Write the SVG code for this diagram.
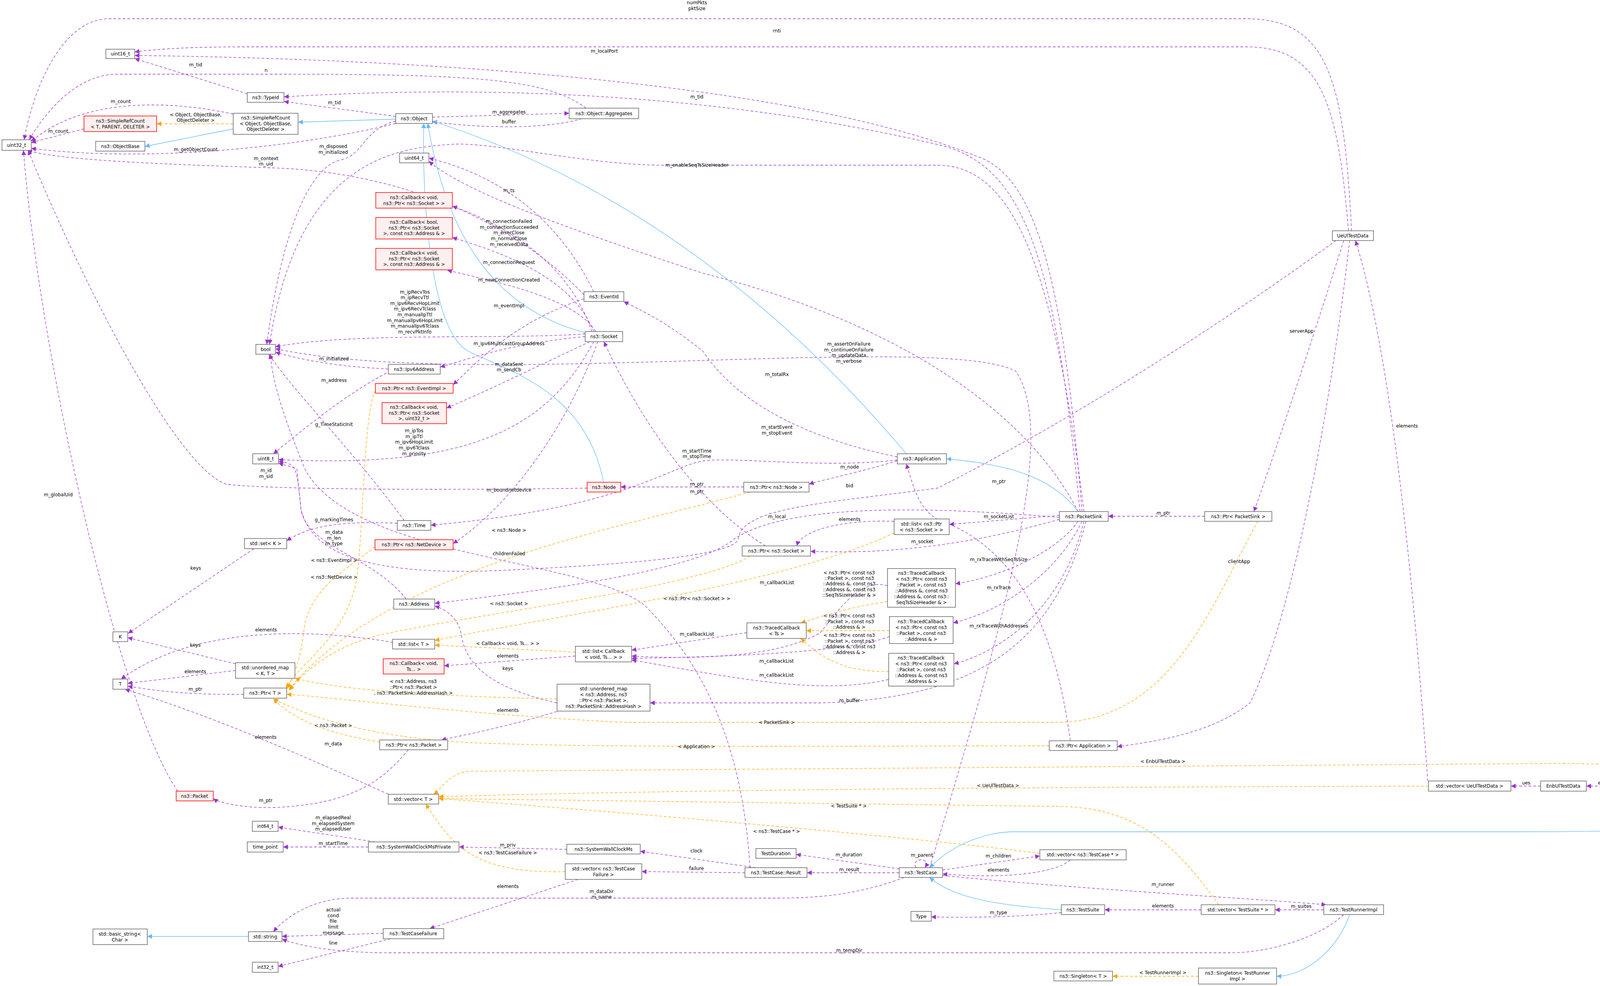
<svg xmlns="http://www.w3.org/2000/svg" width="4705" height="2525" viewBox="0 0 4705 2525">
<style>
text{font-family:"DejaVu Sans","Liberation Sans",sans-serif;font-size:12px;fill:#000}
.n rect{fill:#fff;stroke:#666;stroke-width:1.5}
.r rect{fill:#fff0f0;stroke:#f00;stroke-width:1.5}
.g rect{fill:#999;stroke:#666;stroke-width:1.5}
.n text,.r text,.g text{text-anchor:middle}
.u{fill:none;stroke:#9a32cd;stroke-width:1.3;stroke-dasharray:7,5}
.t{fill:none;stroke:#ffa500;stroke-width:1.3;stroke-dasharray:7,5}
.i{fill:none;stroke:#63b8ff;stroke-width:1.3}
.u{marker-end:url(#mu)}.t{marker-end:url(#mt)}.i{marker-end:url(#mi)}
.l{text-anchor:middle}
</style>
<defs>
<marker id="mu" viewBox="0 0 10 10" refX="10" refY="5" markerWidth="12" markerHeight="12" markerUnits="userSpaceOnUse" orient="auto"><path d="M0,0L10,5L0,10z" fill="#9a32cd"/></marker>
<marker id="mt" viewBox="0 0 10 10" refX="10" refY="5" markerWidth="12" markerHeight="12" markerUnits="userSpaceOnUse" orient="auto"><path d="M0,0L10,5L0,10z" fill="#ffa500"/></marker>
<marker id="mi" viewBox="0 0 10 10" refX="10" refY="5" markerWidth="12" markerHeight="12" markerUnits="userSpaceOnUse" orient="auto"><path d="M0,0L10,5L0,10z" fill="#63b8ff"/></marker>
</defs>
<rect width="4705" height="2525" fill="#fff"/>
<g id="edges">
<path class="u" d="M3460,591C3440,200 3400,48 3190,48L280,48C150,48 80,250 62,358"/>
<path class="u" d="M3452,591C3425,260 3380,120 3190,120L620,120C500,120 400,125 345,133"/>
<path class="u" d="M2770,1310C2720,700 2650,450 2500,400C2000,200 1000,150 345,142"/>
<path class="u" d="M2765,1310C2700,650 2620,420 2400,370C1800,230 1200,220 727,248"/>
<path class="u" d="M1500,277C1400,200 1200,190 700,190L300,190C200,190 120,280 75,358"/>
<path class="u" d="M1107,300L1457,290"/>
<path class="u" d="M1490,304C1400,330 1250,330 1107,312"/>
<path class="u" d="M633,240L345,150"/>
<path class="u" d="M1013,298L727,260"/>
<path class="u" d="M597,292C400,250 200,260 80,362"/>
<path class="u" d="M215,330L80,365"/>
<path class="u" d="M1013,316C800,370 400,420 80,380"/>
<path class="u" d="M1495,755C1300,550 1000,440 700,430C400,420 150,410 70,385"/>
<path class="u" d="M1013,310C930,330 930,400 870,410C790,430 720,600 683,882"/>
<path class="u" d="M1498,855C1300,870 900,850 705,888"/>
<path class="u" d="M994,945C900,940 800,930 705,902"/>
<path class="u" d="M1035,1333C900,1150 750,1000 688,907"/>
<path class="u" d="M1520,875C1400,1100 1200,1200 713,1177"/>
<path class="u" d="M1000,950C900,1000 800,1080 700,1162"/>
<path class="u" d="M1503,1250C1200,1255 700,1255 580,1240C450,1200 200,700 72,385"/>
<path class="u" d="M455,2026C300,1800 100,900 60,385"/>
<path class="u" d="M1520,747C1400,500 1200,430 1098,405"/>
<path class="u" d="M2760,1310C2600,1000 2200,800 1800,700C1500,600 1200,500 1098,413"/>
<path class="u" d="M1515,849C1450,650 1250,560 1158,528"/>
<path class="u" d="M1520,849C1460,700 1260,640 1158,608"/>
<path class="u" d="M1525,849C1470,760 1260,720 1145,692"/>
<path class="u" d="M1495,765C1300,830 1200,950 1160,985"/>
<path class="u" d="M1530,875C1450,1100 1300,1300 1160,1392"/>
<path class="u" d="M2297,1180C2200,1210 2100,1230 2071,1240"/>
<path class="u" d="M1904,1247L1589,1247"/>
<path class="u" d="M1960,1398C1800,1300 1650,1100 1546,875"/>
<path class="u" d="M1510,875C1350,950 1250,1000 1143,1045"/>
<path class="u" d="M2297,1170C2100,1130 1900,1050 1800,900C1700,820 1650,800 1597,772"/>
<path class="u" d="M2297,1178C2100,1200 1900,1170 1800,1180C1700,1200 1600,1300 1103,1345"/>
<path class="u" d="M1017,1340C900,1335 800,1340 734,1385"/>
<path class="u" d="M1040,1534C950,1420 780,1400 770,1300C760,1200 760,1185 713,1182"/>
<path class="u" d="M650,1405L328,1622"/>
<path class="u" d="M1006,1645C800,1610 500,1600 310,1739"/>
<path class="u" d="M603,1700L327,1633"/>
<path class="u" d="M603,1717L327,1750"/>
<path class="u" d="M624,1778C500,1780 400,1770 327,1757"/>
<path class="u" d="M994,2034C700,1900 500,1820 320,1765"/>
<path class="u" d="M1426,1800C1250,1760 1190,1700 1180,1620C1170,1580 1140,1560 1113,1552"/>
<path class="u" d="M1473,1680L1137,1705"/>
<path class="u" d="M1426,1822C1300,1860 1200,1880 1130,1895"/>
<path class="u" d="M1045,1920C980,2000 900,2060 700,2068C620,2070 560,2055 546,2045"/>
<path class="u" d="M960,2156L712,2118"/>
<path class="u" d="M943,2169L725,2169"/>
<path class="u" d="M1451,2175L1175,2169"/>
<path class="u" d="M1935,2222L1639,2180"/>
<path class="u" d="M1907,2235L1643,2232"/>
<path class="u" d="M1480,2252L1100,2378"/>
<path class="u" d="M981,2390L722,2398"/>
<path class="u" d="M1000,2404L712,2475"/>
<path class="u" d="M2315,2247C2200,2290 2100,2300 1990,2300L900,2300C800,2300 730,2350 700,2386"/>
<path class="u" d="M3440,2342C3380,2400 3250,2440 3150,2440L1000,2440C850,2440 760,2420 722,2405"/>
<path class="u" d="M2302,2225L2038,2188"/>
<path class="u" d="M2302,2235L2066,2235"/>
<path class="u" d="M2345,2222C2330,2195 2385,2195 2368,2222"/>
<path class="u" d="M2413,2228L2662,2192"/>
<path class="u" d="M2740,2202C2700,2240 2550,2250 2413,2238"/>
<path class="u" d="M2413,2242C2800,2280 3200,2300 3395,2317"/>
<path class="u" d="M2717,2337C2600,2350 2450,2350 2384,2348"/>
<path class="u" d="M3075,2330L2828,2330"/>
<path class="u" d="M3389,2330L3264,2330"/>
<path class="u" d="M1920,2222C1900,1900 1800,1700 1650,1550C1500,1430 900,1430 780,1200C740,1100 700,1000 692,907"/>
<path class="u" d="M2380,2222C2600,1500 2700,1100 2600,950C2400,850 1200,1000 705,893"/>
<path class="u" d="M2775,1310C2700,700 2600,423 2400,423L1700,423C1500,423 1250,360 1150,370C1000,380 760,420 690,882"/>
<path class="u" d="M2712,1330C2500,1390 2300,1420 2075,1412"/>
<path class="u" d="M2712,1320L2430,1343"/>
<path class="u" d="M2289,1335C2150,1330 2050,1360 2040,1398"/>
<path class="u" d="M2760,1335C2700,1420 2550,1480 2446,1495"/>
<path class="u" d="M2770,1335C2700,1480 2550,1570 2440,1595"/>
<path class="u" d="M2775,1335C2720,1560 2560,1670 2442,1700"/>
<path class="u" d="M2780,1335C2700,1650 2500,1790 2100,1800L1664,1800"/>
<path class="u" d="M1912,1620L1617,1665"/>
<path class="u" d="M2272,1500C2200,1480 2150,1560 2100,1620C2000,1680 1800,1690 1617,1680"/>
<path class="u" d="M2277,1630C2200,1660 2000,1680 1617,1686"/>
<path class="u" d="M2275,1740C2100,1780 1900,1740 1617,1690"/>
<path class="u" d="M2712,1325C2300,1290 2000,1300 1880,1380C1800,1450 1500,1500 1113,1545"/>
<path class="u" d="M2740,1897C2700,1600 2600,1400 2400,1330C2350,1300 2340,1250 2320,1188"/>
<path class="u" d="M3440,616C3350,900 3250,1200 3210,1310"/>
<path class="u" d="M3455,616C3400,1100 3300,1600 3200,1800C3100,1880 2950,1900 2860,1912"/>
<path class="u" d="M3084,1322L2837,1322"/>
<path class="u" d="M3420,616C3100,850 2700,1100 2400,1250C2100,1290 1900,1300 1890,1380C1880,1430 1500,1450 1300,1460C900,1480 790,1400 770,1300L760,1200L713,1186"/>
<path class="u" d="M3655,2000C3620,1500 3560,900 3470,616"/>
<path class="u" d="M3944,2013L3868,2013"/>
<path class="u" d="M4174,2013L4061,2013"/>
<path class="u" d="M4570,2089L4340,2026"/>
<path class="u" d="M1498,862C1300,880 1200,920 1127,940"/>
<path class="t" d="M597,317L401,317"/>
<path class="t" d="M961,1000C930,1050 930,1400 910,1500C870,1650 760,1700 735,1762"/>
<path class="t" d="M960,1400C900,1450 800,1500 780,1600C770,1680 760,1720 732,1765"/>
<path class="t" d="M1920,1260C1600,1350 1000,1450 740,1765"/>
<path class="t" d="M1920,1424C1800,1500 1300,1560 1000,1620C850,1650 780,1720 740,1768"/>
<path class="t" d="M972,1900C850,1880 760,1850 700,1790"/>
<path class="t" d="M3220,1335C3100,1550 3000,1850 2700,1850L1600,1850C1200,1830 900,1790 734,1778"/>
<path class="t" d="M2686,1910C2300,1910 1600,1915 1300,1905C1000,1900 820,1850 700,1790"/>
<path class="t" d="M2289,1365C2000,1500 1400,1580 1113,1640"/>
<path class="t" d="M1473,1670L1113,1652"/>
<path class="t" d="M1426,1790C1000,1780 850,1760 755,1737"/>
<path class="t" d="M2272,1540C2150,1560 2100,1580 2050,1595"/>
<path class="t" d="M2277,1615L2064,1615"/>
<path class="t" d="M2275,1720C2150,1720 2100,1680 2050,1635"/>
<path class="t" d="M1447,2232C1200,2240 1150,2150 1090,2059"/>
<path class="t" d="M2662,2185C2300,2140 1600,2080 1123,2045"/>
<path class="t" d="M3120,2317C3000,2150 2900,2065 2700,2065L1123,2045"/>
<path class="t" d="M3657,2013C3300,2015 2000,2015 1123,2040"/>
<path class="t" d="M4290,2000C4200,1960 4100,1955 4000,1955L1200,1975C1150,1980 1130,2020 1110,2034"/>
<path class="t" d="M3068,2500L2848,2500"/>
<path class="i" d="M597,330L371,375"/>
<path class="i" d="M1013,305L763,313"/>
<path class="i" d="M1498,852C1300,800 1150,650 1095,316"/>
<path class="i" d="M1545,1235C1500,1000 1300,950 1200,900C1100,850 1080,500 1085,316"/>
<path class="i" d="M2320,1162C2100,900 1700,500 1107,310"/>
<path class="i" d="M2760,1310C2700,1230 2600,1190 2423,1175"/>
<path class="i" d="M4559,2105C4400,2120 4200,2130 3900,2130L2600,2130C2500,2130 2420,2180 2380,2222"/>
<path class="i" d="M2717,2330C2600,2320 2450,2310 2380,2247"/>
<path class="i" d="M3455,2342C3430,2420 3350,2500 3268,2500"/>
<path class="i" d="M636,2398L377,2398"/>
</g>
<g id="labels">
<text class="l" x="1784" y="11">numPkts</text><text class="l" x="1784" y="26">pktSize</text>
<text class="l" x="1989" y="83">rnti</text>
<text class="l" x="1547" y="135">m_localPort</text>
<text class="l" x="501" y="170">m_tid</text>
<text class="l" x="681" y="184">n</text>
<text class="l" x="1784" y="252">m_tid</text>
<text class="l" x="309" y="264">m_count</text>
<text class="l" x="1303" y="291">m_aggregates</text>
<text class="l" x="856" y="267">m_tid</text>
<text class="l" x="501" y="298">&lt; Object, ObjectBase,</text><text class="l" x="501" y="312">ObjectDeleter &gt;</text>
<text class="l" x="1303" y="316">buffer</text>
<text class="l" x="149" y="340">m_count</text>
<text class="l" x="501" y="387">m_getObjectCount</text>
<text class="l" x="853" y="379">m_disposed</text><text class="l" x="853" y="394">m_initialized</text>
<text class="l" x="681" y="410">m_context</text><text class="l" x="681" y="424">m_uid</text>
<text class="l" x="1784" y="427">m_enableSeqTsSizeHeader</text>
<text class="l" x="1303" y="492">m_ts</text>
<text class="l" x="1303" y="571">m_connectionFailed</text><text class="l" x="1303" y="586">m_connectionSucceeded</text><text class="l" x="1303" y="600">m_errorClose</text><text class="l" x="1303" y="615">m_normalClose</text><text class="l" x="1303" y="630">m_receivedData</text>
<text class="l" x="1303" y="676">m_connectionRequest</text>
<text class="l" x="1303" y="721">m_newConnectionCreated</text>
<text class="l" x="1303" y="787">m_eventImpl</text>
<text class="l" x="1062" y="752">m_ipRecvTos</text><text class="l" x="1062" y="766">m_ipRecvTtl</text><text class="l" x="1062" y="781">m_ipv6RecvHopLimit</text><text class="l" x="1062" y="795">m_ipv6RecvTclass</text><text class="l" x="1062" y="810">m_manualIpTtl</text><text class="l" x="1062" y="825">m_manualIpv6HopLimit</text><text class="l" x="1062" y="839">m_manualIpv6Tclass</text><text class="l" x="1062" y="854">m_recvPktInfo</text>
<text class="l" x="3332" y="852">serverApp</text>
<text class="l" x="1303" y="884">m_ipv6MulticastGroupAddress</text>
<text class="l" x="2173" y="885">m_assertOnFailure</text><text class="l" x="2173" y="900">m_continueOnFailure</text><text class="l" x="2173" y="914">m_updateData</text><text class="l" x="2173" y="929">m_verbose</text>
<text class="l" x="855" y="923">m_initialized</text>
<text class="l" x="1303" y="937">m_dataSent</text><text class="l" x="1303" y="951">m_sendCb</text>
<text class="l" x="1989" y="963">m_totalRx</text>
<text class="l" x="855" y="978">m_address</text>
<text class="l" x="855" y="1091">g_TimeStaticInit</text>
<text class="l" x="1989" y="1098">m_startEvent</text><text class="l" x="1989" y="1113">m_stopEvent</text>
<text class="l" x="3602" y="1095">elements</text>
<text class="l" x="1060" y="1107">m_ipTos</text><text class="l" x="1060" y="1122">m_ipTtl</text><text class="l" x="1060" y="1136">m_ipv6HopLimit</text><text class="l" x="1060" y="1151">m_ipv6Tclass</text><text class="l" x="1060" y="1166">m_priority</text>
<text class="l" x="1784" y="1159">m_startTime</text><text class="l" x="1784" y="1173">m_stopTime</text>
<text class="l" x="2175" y="1200">m_node</text>
<text class="l" x="681" y="1209">m_id</text><text class="l" x="681" y="1224">m_sid</text>
<text class="l" x="2557" y="1237">m_ptr</text>
<text class="l" x="1784" y="1244">m_ptr</text>
<text class="l" x="2175" y="1248">bid</text>
<text class="l" x="1303" y="1259">m_boundnetdevice</text>
<text class="l" x="1784" y="1263">m_ptr</text>
<text class="l" x="149" y="1271">m_globalUid</text>
<text class="l" x="2978" y="1318">m_ptr</text>
<text class="l" x="1989" y="1327">m_local</text>
<text class="l" x="2557" y="1327">m_socketList</text>
<text class="l" x="2175" y="1334">elements</text>
<text class="l" x="855" y="1335">g_markingTimes</text>
<text class="l" x="1303" y="1362">&lt; ns3::Node &gt;</text>
<text class="l" x="855" y="1367">m_data</text><text class="l" x="855" y="1382">m_len</text><text class="l" x="855" y="1396">m_type</text>
<text class="l" x="2361" y="1391">m_socket</text>
<text class="l" x="1303" y="1422">childrenFailed</text>
<text class="l" x="2557" y="1437">m_rxTraceWithSeqTsSize</text>
<text class="l" x="855" y="1439">&lt; ns3::EventImpl &gt;</text>
<text class="l" x="3172" y="1442">clientApp</text>
<text class="l" x="501" y="1459">keys</text>
<text class="l" x="2174" y="1471">&lt; ns3::Ptr&lt; const ns3</text><text class="l" x="2174" y="1485">::Packet &gt;, const ns3</text><text class="l" x="2174" y="1499">::Address &amp;, const ns3</text><text class="l" x="2174" y="1514">::Address &amp;, const ns3</text><text class="l" x="2174" y="1528">::SeqTsSizeHeader &amp; &gt;</text>
<text class="l" x="855" y="1482">&lt; ns3::NetDevice &gt;</text>
<text class="l" x="1989" y="1496">m_callbackList</text>
<text class="l" x="2557" y="1509">m_rxTrace</text>
<text class="l" x="1784" y="1537">&lt; ns3::Ptr&lt; ns3::Socket &gt; &gt;</text>
<text class="l" x="1303" y="1550">&lt; ns3::Socket &gt;</text>
<text class="l" x="2174" y="1581">&lt; ns3::Ptr&lt; const ns3</text><text class="l" x="2174" y="1596">::Packet &gt;, const ns3</text><text class="l" x="2174" y="1610">::Address &amp; &gt;</text>
<text class="l" x="2557" y="1607">m_rxTraceWithAddresses</text>
<text class="l" x="681" y="1617">elements</text>
<text class="l" x="1784" y="1628">m_callbackList</text>
<text class="l" x="2174" y="1631">&lt; ns3::Ptr&lt; const ns3</text><text class="l" x="2174" y="1646">::Packet &gt;, const ns3</text><text class="l" x="2174" y="1660">::Address &amp;, const ns3</text><text class="l" x="2174" y="1675">::Address &amp; &gt;</text>
<text class="l" x="1300" y="1652">&lt; Callback&lt; void, Ts... &gt; &gt;</text>
<text class="l" x="500" y="1656">keys</text>
<text class="l" x="1300" y="1684">elements</text>
<text class="l" x="1988" y="1697">m_callbackList</text>
<text class="l" x="1300" y="1716">keys</text>
<text class="l" x="500" y="1724">elements</text>
<text class="l" x="1988" y="1733">m_callbackList</text>
<text class="l" x="1058" y="1749">&lt; ns3::Address, ns3</text><text class="l" x="1058" y="1764">::Ptr&lt; ns3::Packet &gt;</text><text class="l" x="1058" y="1779">, ns3::PacketSink::AddressHash &gt;</text>
<text class="l" x="500" y="1769">m_ptr</text>
<text class="l" x="2175" y="1798">m_buffer</text>
<text class="l" x="1300" y="1823">elements</text>
<text class="l" x="1988" y="1854">&lt; PacketSink &gt;</text>
<text class="l" x="853" y="1862">&lt; ns3::Packet &gt;</text>
<text class="l" x="680" y="1892">elements</text>
<text class="l" x="853" y="1909">m_data</text>
<text class="l" x="1783" y="1916">&lt; Application &gt;</text>
<text class="l" x="2977" y="1954">&lt; EnbUlTestData &gt;</text>
<text class="l" x="3907" y="2009">ues</text>
<text class="l" x="4119" y="2009">elements</text>
<text class="l" x="2555" y="2016">&lt; UeUlTestData &gt;</text>
<text class="l" x="4476" y="2044">m_enbUlTestData</text>
<text class="l" x="680" y="2054">m_ptr</text>
<text class="l" x="2173" y="2068">&lt; TestSuite * &gt;</text>
<text class="l" x="853" y="2098">m_elapsedReal</text><text class="l" x="853" y="2113">m_elapsedSystem</text><text class="l" x="853" y="2127">m_elapsedUser</text>
<text class="l" x="1988" y="2133">&lt; ns3::TestCase * &gt;</text>
<text class="l" x="853" y="2164">m_startTime</text>
<text class="l" x="1300" y="2168">m_priv</text>
<text class="l" x="1783" y="2183">clock</text>
<text class="l" x="1300" y="2188">&lt; ns3::TestCaseFailure &gt;</text>
<text class="l" x="2173" y="2193">m_duration</text>
<text class="l" x="2360" y="2194">m_parent</text>
<text class="l" x="2556" y="2196">m_children</text>
<text class="l" x="1783" y="2228">failure</text>
<text class="l" x="2174" y="2231">m_result</text>
<text class="l" x="2556" y="2232">elements</text>
<text class="l" x="2977" y="2269">m_runner</text>
<text class="l" x="1300" y="2274">elements</text>
<text class="l" x="1540" y="2287">m_dataDir</text><text class="l" x="1540" y="2301">m_name</text>
<text class="l" x="2977" y="2324">elements</text>
<text class="l" x="3331" y="2325">m_suites</text>
<text class="l" x="853" y="2334">actual</text><text class="l" x="853" y="2349">cond</text><text class="l" x="853" y="2363">file</text><text class="l" x="853" y="2378">limit</text><text class="l" x="853" y="2393">message</text>
<text class="l" x="2556" y="2341">m_type</text>
<text class="l" x="853" y="2419">line</text>
<text class="l" x="2174" y="2438">m_tempDir</text>
<text class="l" x="2977" y="2495">&lt; TestRunnerImpl &gt;</text>
</g>
<g id="uint16_t" class="n"><rect x="271" y="126" width="74" height="24"/><text x="308" y="142">uint16_t</text></g>
<g id="TypeId" class="n"><rect x="633" y="237" width="94" height="25"/><text x="680" y="254">ns3::TypeId</text></g>
<g id="SRC_T" class="r"><rect x="215" y="297" width="186" height="40"/><text x="308" y="314">ns3::SimpleRefCount</text><text x="308" y="329">&lt; T, PARENT, DELETER &gt;</text></g>
<g id="SRC_O" class="n"><rect x="597" y="290" width="166" height="54"/><text x="680" y="306">ns3::SimpleRefCount</text><text x="680" y="321">&lt; Object, ObjectBase,</text><text x="680" y="335">ObjectDeleter &gt;</text></g>
<g id="ObjectBase" class="n"><rect x="245" y="362" width="126" height="25"/><text x="308" y="379">ns3::ObjectBase</text></g>
<g id="uint32_t" class="n"><rect x="5" y="358" width="75" height="27"/><text x="42" y="376">uint32_t</text></g>
<g id="Object" class="n"><rect x="1013" y="291" width="94" height="25"/><text x="1060" y="308">ns3::Object</text></g>
<g id="Aggregates" class="n"><rect x="1457" y="277" width="178" height="27"/><text x="1546" y="295">ns3::Object::Aggregates</text></g>
<g id="uint64_t" class="n"><rect x="1023" y="392" width="75" height="25"/><text x="1060" y="409">uint64_t</text></g>
<g id="CB1" class="r"><rect x="962" y="493" width="196" height="40"/><text x="1060" y="510">ns3::Callback&lt; void,</text><text x="1060" y="525">ns3::Ptr&lt; ns3::Socket &gt; &gt;</text></g>
<g id="CB2" class="r"><rect x="962" y="557" width="196" height="55"/><text x="1060" y="573">ns3::Callback&lt; bool,</text><text x="1060" y="588">ns3::Ptr&lt; ns3::Socket</text><text x="1060" y="602">&gt;, const ns3::Address &amp; &gt;</text></g>
<g id="CB3" class="r"><rect x="962" y="636" width="196" height="55"/><text x="1060" y="652">ns3::Callback&lt; void,</text><text x="1060" y="667">ns3::Ptr&lt; ns3::Socket</text><text x="1060" y="681">&gt;, const ns3::Address &amp; &gt;</text></g>
<g id="EventId" class="n"><rect x="1495" y="747" width="102" height="25"/><text x="1546" y="764">ns3::EventId</text></g>
<g id="UeUlTestData" class="n"><rect x="3411" y="591" width="105" height="25"/><text x="3463" y="608">UeUlTestData</text></g>
<g id="bool" class="n"><rect x="655" y="882" width="50" height="25"/><text x="680" y="899">bool</text></g>
<g id="Ipv6Address" class="n"><rect x="994" y="933" width="133" height="25"/><text x="1060" y="950">ns3::Ipv6Address</text></g>
<g id="PtrEventImpl" class="r"><rect x="961" y="982" width="199" height="25"/><text x="1060" y="999">ns3::Ptr&lt; ns3::EventImpl &gt;</text></g>
<g id="CB4" class="r"><rect x="978" y="1031" width="165" height="54"/><text x="1060" y="1047">ns3::Callback&lt; void,</text><text x="1060" y="1062">ns3::Ptr&lt; ns3::Socket</text><text x="1060" y="1076">&gt;, uint32_t &gt;</text></g>
<g id="uint8_t" class="n"><rect x="647" y="1162" width="66" height="26"/><text x="680" y="1179">uint8_t</text></g>
<g id="Time" class="n"><rect x="1017" y="1333" width="86" height="25"/><text x="1060" y="1350">ns3::Time</text></g>
<g id="PtrNetDevice" class="r"><rect x="960" y="1382" width="200" height="26"/><text x="1060" y="1399">ns3::Ptr&lt; ns3::NetDevice &gt;</text></g>
<g id="setK" class="n"><rect x="626" y="1379" width="108" height="26"/><text x="680" y="1396">std::set&lt; K &gt;</text></g>
<g id="Address" class="n"><rect x="1008" y="1534" width="105" height="26"/><text x="1060" y="1551">ns3::Address</text></g>
<g id="K" class="n"><rect x="289" y="1618" width="38" height="25"/><text x="308" y="1635">K</text></g>
<g id="listT" class="n"><rect x="1005" y="1637" width="108" height="25"/><text x="1059" y="1654">std::list&lt; T &gt;</text></g>
<g id="Socket" class="n"><rect x="1498" y="849" width="96" height="26"/><text x="1546" y="866">ns3::Socket</text></g>
<g id="Node" class="r"><rect x="1503" y="1235" width="86" height="25"/><text x="1546" y="1252">ns3::Node</text></g>
<g id="PtrNode" class="n"><rect x="1904" y="1235" width="167" height="25"/><text x="1987" y="1252">ns3::Ptr&lt; ns3::Node &gt;</text></g>
<g id="Application" class="n"><rect x="2297" y="1162" width="126" height="26"/><text x="2360" y="1179">ns3::Application</text></g>
<g id="listPtrSocket" class="n"><rect x="2289" y="1329" width="141" height="40"/><text x="2359" y="1346">std::list&lt; ns3::Ptr</text><text x="2359" y="1361">&lt; ns3::Socket &gt; &gt;</text></g>
<g id="PacketSink" class="n"><rect x="2712" y="1310" width="125" height="25"/><text x="2774" y="1327">ns3::PacketSink</text></g>
<g id="PtrSocket" class="n"><rect x="1900" y="1398" width="175" height="26"/><text x="1987" y="1415">ns3::Ptr&lt; ns3::Socket &gt;</text></g>
<g id="TCTs" class="n"><rect x="1912" y="1595" width="152" height="40"/><text x="1988" y="1612">ns3::TracedCallback</text><text x="1988" y="1627">&lt; Ts &gt;</text></g>
<g id="listCb" class="n"><rect x="1473" y="1655" width="144" height="40"/><text x="1545" y="1672">std::list&lt; Callback</text><text x="1545" y="1687">&lt; void, Ts... &gt; &gt;</text></g>
<g id="TC1" class="n"><rect x="2272" y="1456" width="174" height="99"/><text x="2359" y="1472">ns3::TracedCallback</text><text x="2359" y="1487">&lt; ns3::Ptr&lt; const ns3</text><text x="2359" y="1502">::Packet &gt;, const ns3</text><text x="2359" y="1517">::Address &amp;, const ns3</text><text x="2359" y="1532">::Address &amp;, const ns3::</text><text x="2359" y="1547">SeqTsSizeHeader &amp; &gt;</text></g>
<g id="TC2" class="n"><rect x="2277" y="1579" width="163" height="69"/><text x="2358" y="1596">ns3::TracedCallback</text><text x="2358" y="1611">&lt; ns3::Ptr&lt; const ns3</text><text x="2358" y="1626">::Packet &gt;, const ns3</text><text x="2358" y="1641">::Address &amp; &gt;</text></g>
<g id="TC3" class="n"><rect x="2275" y="1673" width="167" height="84"/><text x="2358" y="1689">ns3::TracedCallback</text><text x="2358" y="1704">&lt; ns3::Ptr&lt; const ns3</text><text x="2358" y="1719">::Packet &gt;, const ns3</text><text x="2358" y="1734">::Address &amp;, const ns3</text><text x="2358" y="1749">::Address &amp; &gt;</text></g>
<g id="PtrPacketSink" class="n"><rect x="3084" y="1310" width="172" height="25"/><text x="3170" y="1327">ns3::Ptr&lt; PacketSink &gt;</text></g>
<g id="T" class="n"><rect x="289" y="1739" width="38" height="26"/><text x="308" y="1756">T</text></g>
<g id="umapKT" class="n"><rect x="603" y="1697" width="152" height="40"/><text x="679" y="1714">std::unordered_map</text><text x="679" y="1729">&lt; K, T &gt;</text></g>
<g id="PtrT" class="n"><rect x="624" y="1762" width="110" height="26"/><text x="679" y="1779">ns3::Ptr&lt; T &gt;</text></g>
<g id="CbVoidTs" class="r"><rect x="981" y="1687" width="156" height="39"/><text x="1059" y="1703">ns3::Callback&lt; void,</text><text x="1059" y="1718">Ts... &gt;</text></g>
<g id="umapAddr" class="n"><rect x="1426" y="1752" width="238" height="69"/><text x="1545" y="1768">std::unordered_map</text><text x="1545" y="1783">&lt; ns3::Address, ns3</text><text x="1545" y="1798">::Ptr&lt; ns3::Packet &gt;,</text><text x="1545" y="1813">ns3::PacketSink::AddressHash &gt;</text></g>
<g id="PtrPacket" class="n"><rect x="972" y="1895" width="174" height="25"/><text x="1059" y="1912">ns3::Ptr&lt; ns3::Packet &gt;</text></g>
<g id="Packet" class="r"><rect x="451" y="2026" width="95" height="25"/><text x="498" y="2043">ns3::Packet</text></g>
<g id="vectorT" class="n"><rect x="994" y="2034" width="129" height="25"/><text x="1058" y="2051">std::vector&lt; T &gt;</text></g>
<g id="int64_t" class="n"><rect x="646" y="2103" width="66" height="26"/><text x="679" y="2120">int64_t</text></g>
<g id="time_point" class="n"><rect x="633" y="2156" width="92" height="26"/><text x="679" y="2173">time_point</text></g>
<g id="SWCMP" class="n"><rect x="943" y="2156" width="232" height="26"/><text x="1059" y="2173">ns3::SystemWallClockMsPrivate</text></g>
<g id="SWCM" class="n"><rect x="1451" y="2162" width="188" height="25"/><text x="1545" y="2179">ns3::SystemWallClockMs</text></g>
<g id="vecTCF" class="n"><rect x="1447" y="2212" width="196" height="40"/><text x="1545" y="2229">std::vector&lt; ns3::TestCase</text><text x="1545" y="2244">Failure &gt;</text></g>
<g id="basic_string" class="n"><rect x="238" y="2379" width="139" height="40"/><text x="307" y="2396">std::basic_string&lt;</text><text x="307" y="2411">Char &gt;</text></g>
<g id="string" class="n"><rect x="636" y="2386" width="86" height="25"/><text x="679" y="2403">std::string</text></g>
<g id="TCF" class="n"><rect x="981" y="2378" width="155" height="26"/><text x="1058" y="2395">ns3::TestCaseFailure</text></g>
<g id="int32_t" class="n"><rect x="646" y="2464" width="66" height="26"/><text x="679" y="2481">int32_t</text></g>
<g id="PtrApplication" class="n"><rect x="2686" y="1897" width="174" height="25"/><text x="2773" y="1914">ns3::Ptr&lt; Application &gt;</text></g>
<g id="TestDuration" class="n"><rect x="1935" y="2173" width="103" height="25"/><text x="1986" y="2190">TestDuration</text></g>
<g id="Result" class="n"><rect x="1907" y="2222" width="159" height="25"/><text x="1986" y="2239">ns3::TestCase::Result</text></g>
<g id="TestCase" class="n"><rect x="2302" y="2222" width="111" height="25"/><text x="2357" y="2239">ns3::TestCase</text></g>
<g id="vecTC" class="n"><rect x="2662" y="2176" width="221" height="26"/><text x="2772" y="2193">std::vector&lt; ns3::TestCase * &gt;</text></g>
<g id="TestSuite" class="n"><rect x="2717" y="2317" width="111" height="25"/><text x="2772" y="2334">ns3::TestSuite</text></g>
<g id="Type" class="n"><rect x="2332" y="2334" width="52" height="25"/><text x="2358" y="2351">Type</text></g>
<g id="SingletonT" class="n"><rect x="2698" y="2487" width="150" height="25"/><text x="2773" y="2504">ns3::Singleton&lt; T &gt;</text></g>
<g id="SingletonTRI" class="n"><rect x="3068" y="2479" width="200" height="41"/><text x="3168" y="2496">ns3::Singleton&lt; TestRunner</text><text x="3168" y="2511">Impl &gt;</text></g>
<g id="TRI" class="n"><rect x="3389" y="2317" width="153" height="25"/><text x="3465" y="2334">ns3::TestRunnerImpl</text></g>
<g id="vecTS" class="n"><rect x="3075" y="2317" width="189" height="25"/><text x="3169" y="2334">std::vector&lt; TestSuite * &gt;</text></g>
<g id="vecUe" class="n"><rect x="3657" y="2000" width="211" height="26"/><text x="3762" y="2017">std::vector&lt; UeUlTestData &gt;</text></g>
<g id="EnbUl" class="n"><rect x="3944" y="2000" width="117" height="26"/><text x="4002" y="2017">EnbUlTestData</text></g>
<g id="vecEnb" class="n"><rect x="4174" y="2000" width="216" height="26"/><text x="4282" y="2017">std::vector&lt; EnbUlTestData &gt;</text></g>
<g id="Epc" class="g"><rect x="4559" y="2089" width="141" height="25"/><text x="4629" y="2106">EpcS1uUlTestCase</text></g>
</svg>
